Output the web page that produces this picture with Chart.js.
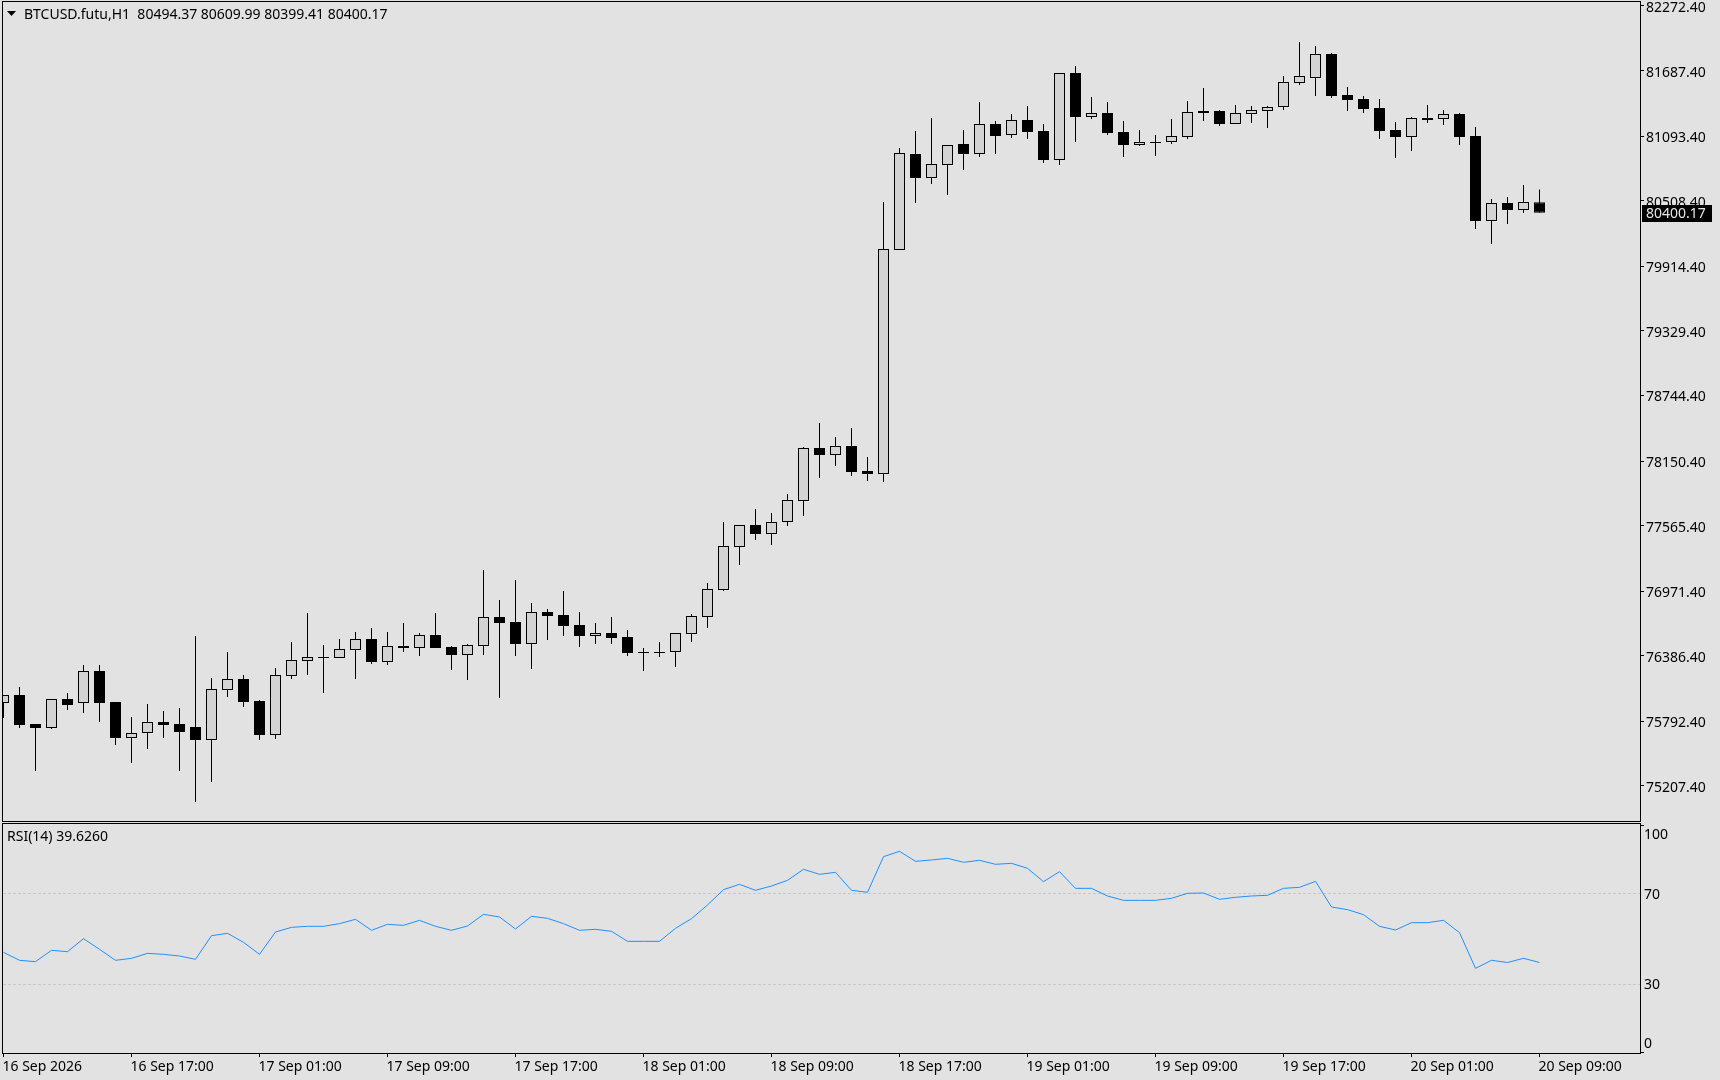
<!DOCTYPE html>
<html>
<head>
<meta charset="utf-8">
<title>BTCUSD.futu,H1</title>
<script src="https://cdn.jsdelivr.net/npm/chart.js@4/dist/chart.umd.min.js"></script>
<style>
    html, body { margin: 0; padding: 0; background: #e2e2e2; }
    canvas { position: absolute; left: 0; display: block; }
    #price-chart { top: 0; }
    #rsi-chart { top: 823px; }
</style>
</head>
<body>
<canvas id="price-chart" width="1720" height="823"></canvas>
<canvas id="rsi-chart" width="1720" height="257"></canvas>
<script>
// --- Data ---
const symbol = 'BTCUSD.futu,H1';
const rsiName = 'RSI(14)';

const opens = [75959.2, 76031.6, 75769.0, 75732.7, 75995.4, 75959.2, 76249.0, 75968.2, 75642.2, 75687.5,
    75787.1, 75769.0, 75741.8, 75624.1, 76076.9, 76176.6, 75977.3, 75669.3, 76203.7, 76339.6,
    76375.8, 76366.8, 76439.2, 76538.9, 76330.6, 76475.5, 76457.4, 76575.1, 76466.4, 76394.0,
    76475.5, 76738.2, 76692.9, 76493.6, 76783.4, 76756.3, 76665.7, 76566.0, 76593.2, 76557.0,
    76421.1, 76421.1, 76421.1, 76584.2, 76738.2, 76982.7, 77372.2, 77571.5, 77489.9, 77598.6,
    77788.8, 78268.9, 78205.5, 78287.0, 78060.6, 78033.4, 80062.3, 80931.9, 80714.5, 80832.2,
    81022.4, 80931.9, 81203.6, 81104.0, 81239.8, 81140.2, 80877.5, 81665.5, 81267.0, 81303.2,
    81131.1, 81013.4, 81040.6, 81040.6, 81085.9, 81321.3, 81321.3, 81203.6, 81294.2, 81321.3,
    81357.6, 81575.0, 81620.3, 81837.6, 81466.3, 81430.0, 81348.5, 81149.3, 81085.9, 81257.9,
    81248.9, 81294.2, 81094.9, 80325.0, 80488.0, 80424.6, 80494.37];
const highs = [76031.6, 76104.1, 75769.0, 75995.4, 76049.8, 76303.4, 76303.4, 75968.2, 75832.4, 75950.1,
    75886.7, 75913.9, 76566.0, 76185.6, 76421.1, 76212.8, 75986.4, 76276.2, 76511.7, 76774.4,
    76484.5, 76538.9, 76602.3, 76638.5, 76602.3, 76683.8, 76593.2, 76774.4, 76475.5, 76493.6,
    77163.9, 76892.1, 77073.3, 76865.0, 76810.6, 76973.7, 76783.4, 76683.8, 76738.2, 76620.4,
    76457.4, 76511.7, 76593.2, 76765.3, 77046.1, 77598.6, 77571.5, 77716.4, 77680.2, 77852.3,
    78278.0, 78495.3, 78368.5, 78450.0, 78187.4, 80497.1, 80986.2, 81140.2, 81257.9, 81013.4,
    81149.3, 81402.9, 81230.8, 81294.2, 81366.6, 81203.6, 81665.5, 81728.9, 81448.2, 81402.9,
    81230.8, 81149.3, 81104.0, 81248.9, 81411.9, 81529.7, 81330.4, 81375.7, 81366.6, 81366.6,
    81638.4, 81946.3, 81910.1, 81846.7, 81538.7, 81457.2, 81430.0, 81221.7, 81267.0, 81375.7,
    81330.4, 81303.2, 81176.4, 80524.3, 80542.4, 80651.1, 80609.99];
const lows = [75823.3, 75732.7, 75343.3, 75723.7, 75895.8, 75868.6, 75787.1, 75578.8, 75415.7, 75542.5,
    75642.2, 75343.3, 75062.5, 75243.6, 76013.5, 75923.0, 75624.1, 75633.1, 76176.6, 76212.8,
    76049.8, 76366.8, 76176.6, 76312.4, 76303.4, 76421.1, 76384.9, 76457.4, 76258.1, 76167.5,
    76394.0, 76004.5, 76384.9, 76267.2, 76529.8, 76566.0, 76466.4, 76493.6, 76493.6, 76384.9,
    76249.0, 76375.8, 76285.3, 76511.7, 76638.5, 76973.7, 77209.2, 77435.6, 77390.3, 77562.4,
    77653.0, 77997.2, 78105.9, 78015.3, 77970.0, 77960.9, 80062.3, 80488.0, 80660.1, 80560.5,
    80786.9, 80904.7, 80931.9, 81076.8, 81067.7, 80850.3, 80832.2, 81040.6, 81248.9, 81104.0,
    80904.7, 81004.3, 80913.7, 81022.4, 81067.7, 81230.8, 81185.5, 81203.6, 81212.7, 81167.4,
    81330.4, 81556.9, 81457.2, 81439.1, 81321.3, 81303.2, 81067.7, 80895.6, 80959.0, 81212.7,
    81194.5, 81013.4, 80252.5, 80116.7, 80297.8, 80397.5, 80399.41];
const closes = [76031.6, 75759.9, 75732.7, 75995.4, 75941.1, 76249.0, 75959.2, 75642.2, 75687.5, 75787.1,
    75759.9, 75696.5, 75624.1, 76086.0, 76176.6, 75968.2, 75669.3, 76212.8, 76348.7, 76375.8,
    76366.8, 76448.3, 76538.9, 76330.6, 76475.5, 76457.4, 76575.1, 76457.4, 76394.0, 76484.5,
    76738.2, 76683.8, 76493.6, 76783.4, 76747.2, 76656.6, 76566.0, 76593.2, 76547.9, 76412.1,
    76412.1, 76412.1, 76593.2, 76747.2, 76991.8, 77381.3, 77571.5, 77489.9, 77598.6, 77797.9,
    78268.9, 78205.5, 78287.0, 78051.5, 78033.4, 80071.4, 80940.9, 80714.5, 80841.3, 81013.4,
    80931.9, 81203.6, 81094.9, 81239.8, 81131.1, 80877.5, 81665.5, 81267.0, 81303.2, 81122.1,
    81013.4, 81040.6, 81031.5, 81094.9, 81312.3, 81303.2, 81203.6, 81303.2, 81330.4, 81357.6,
    81584.0, 81638.4, 81837.6, 81457.2, 81421.0, 81339.5, 81140.2, 81085.9, 81257.9, 81239.8,
    81294.2, 81085.9, 80325.0, 80488.0, 80424.6, 80497.1, 80400.17];
const rsiValues = [44.12, 40.59, 40.0, 45.0, 44.41, 50.15, 45.44, 40.59, 41.47, 43.67,
    43.23, 42.5, 41.03, 51.47, 52.5, 48.53, 43.23, 53.09, 55.15, 55.6,
    55.6, 56.77, 58.69, 53.83, 56.48, 56.04, 58.24, 55.6, 53.83, 55.74,
    60.89, 59.72, 54.42, 60.01, 59.13, 56.77, 53.83, 54.27, 53.39, 48.97,
    48.97, 48.97, 54.71, 58.98, 65.01, 71.78, 74.14, 71.49, 73.4, 75.9,
    80.76, 78.55, 79.44, 71.49, 70.61, 86.35, 88.71, 84.29, 84.88, 85.62,
    83.85, 84.74, 82.97, 83.41, 81.2, 75.32, 79.73, 72.37, 72.37, 68.99,
    67.07, 67.07, 67.07, 67.96, 70.17, 70.31, 67.52, 68.4, 68.99, 69.28,
    72.37, 72.81, 75.46, 64.13, 62.95, 60.75, 55.6, 53.98, 57.21, 57.21,
    58.24, 52.8, 37.05, 40.59, 39.626, 41.47, 39.626];

const priceTicks = [82272.4, 81687.4, 81093.4, 80508.4, 79914.4, 79329.4, 78744.4, 78150.4, 77565.4, 76971.4, 76386.4, 75792.4, 75207.4];
const rsiTicks = [100, 70, 30, 0];
const rsiLevels = [70, 30];
const timeTickBars = [0, 8, 16, 24, 32, 40, 48, 56, 64, 72, 80, 88, 96];
const timeTickLabels = ['16 Sep 2026', '16 Sep 17:00', '17 Sep 01:00', '17 Sep 09:00', '17 Sep 17:00', '18 Sep 01:00', '18 Sep 09:00',
    '18 Sep 17:00', '19 Sep 01:00', '19 Sep 09:00', '19 Sep 17:00', '20 Sep 01:00', '20 Sep 09:00'];

// --- Look ---
const FONT = { family: '"Noto Sans"', size: 14 };
const FONT_CSS = '14px "Noto Sans"';
const BULL_FILL = '#d3d3d3';
const BEAR_FILL = '#000000';
const RSI_COLOR = '#1e90ff';
const LEVEL_COLOR = '#c8c8c8';
const X_MIN = -0.03125;
const X_MAX = 102.28125;

const last = closes.length - 1;
const bars = closes.map((c, i) => i);

// the pane edges have to stay put, labels may hang over them
function noScalePadding(s) {
    s.paddingTop = 0;
    s.paddingBottom = 0;
    s.paddingLeft = 0;
    s.paddingRight = 0;
}

// a tick label with an empty line next to it moves by half the line height
const nudgedFont = (lineHeight) => ({ ...FONT, lineHeight: `${lineHeight}px` });

function rsiTickFont(c) {
    const v = c.tick ? c.tick.value : null;
    return nudgedFont(v === 100 ? 19 : v === 0 ? 16 : 2);
}

// black frame round each pane
const framePlugin = {
    id: 'frame',
    afterDraw(chart) {
        const { ctx, chartArea: a } = chart;
        ctx.save();
        ctx.strokeStyle = '#000';
        ctx.lineWidth = 1;
        ctx.strokeRect(a.left - 0.5, a.top - 0.5, a.right - a.left + 1, a.bottom - a.top + 1);
        ctx.restore();
    }
};

// symbol line and last price box on the price pane
const priceOverlay = {
    id: 'priceOverlay',
    afterDraw(chart) {
        const { ctx, scales } = chart;
        ctx.save();
        ctx.font = FONT_CSS;
        ctx.textBaseline = 'middle';
        ctx.textAlign = 'left';

        ctx.fillStyle = '#000';
        ctx.beginPath();
        ctx.moveTo(7, 11);
        ctx.lineTo(16, 11);
        ctx.lineTo(11.5, 16);
        ctx.closePath();
        ctx.fill();

        const ohlc = [opens[last], highs[last], lows[last], closes[last]].map(v => v.toFixed(2)).join(' ');
        ctx.fillText(`${symbol}  ${ohlc}`, 24, 15);

        const y = Math.round(scales.y.getPixelForValue(closes[last]));
        ctx.fillRect(1642, y - 8, 70, 17);
        ctx.fillStyle = '#e6e6e6';
        ctx.fillText(closes[last].toFixed(2), 1646, y + 1);
        ctx.restore();
    }
};

const rsiOverlay = {
    id: 'rsiOverlay',
    afterDraw(chart) {
        const { ctx, chartArea } = chart;
        ctx.save();
        ctx.font = FONT_CSS;
        ctx.textBaseline = 'middle';
        ctx.fillStyle = '#000';
        ctx.fillText(`${rsiName} ${rsiValues[last].toFixed(4)}`, 7, chartArea.top + 13);
        ctx.restore();
    }
};

// --- Price pane ---
new Chart(document.getElementById('price-chart'), {
    type: 'bar',
    plugins: [framePlugin, priceOverlay],
    data: {
        datasets: [
            {
                label: 'body',
                order: 1,
                data: bars.map(i => ({ x: i, y: [opens[i], closes[i]] })),
                backgroundColor: bars.map(i => closes[i] > opens[i] ? BULL_FILL : BEAR_FILL),
                borderColor: '#000',
                borderWidth: 1,
                borderSkipped: false,
                inflateAmount: 0,
                barThickness: 11,
                grouped: false
            },
            {
                label: 'wick',
                order: 2,
                data: bars.map(i => ({ x: i, y: [lows[i], highs[i]] })),
                backgroundColor: '#000',
                borderWidth: 0,
                inflateAmount: 0,
                barThickness: 1,
                grouped: false
            }
        ]
    },
    options: {
        responsive: false,
        animation: false,
        layout: { padding: { left: 3, top: 2, right: 0, bottom: 2 } },
        plugins: { legend: { display: false }, tooltip: { enabled: false } },
        scales: {
            x: { type: 'linear', min: X_MIN, max: X_MAX, offset: false, display: false },
            y: {
                position: 'right',
                min: 74890.37,
                max: 82308.63,
                afterBuildTicks: s => { s.ticks = priceTicks.map(v => ({ value: v })); },
                afterFit: s => { s.width = 80; noScalePadding(s); },
                grid: { drawOnChartArea: false, color: '#000', tickLength: 4 },
                border: { display: false },
                ticks: {
                    color: '#000',
                    font: nudgedFont(4),
                    padding: 2,
                    autoSkip: false,
                    callback: v => ['', v.toFixed(2)]
                }
            }
        }
    }
});

// --- RSI pane ---
new Chart(document.getElementById('rsi-chart'), {
    type: 'line',
    plugins: [framePlugin, rsiOverlay],
    data: {
        datasets: [{
            label: rsiName,
            data: bars.map(i => ({ x: i, y: rsiValues[i] })),
            borderColor: RSI_COLOR,
            borderWidth: 1,
            pointRadius: 0,
            tension: 0
        }]
    },
    options: {
        responsive: false,
        animation: false,
        layout: { padding: { left: 3, top: 1, right: 0, bottom: 0 } },
        plugins: { legend: { display: false }, tooltip: { enabled: false } },
        scales: {
            x: {
                type: 'linear',
                min: X_MIN,
                max: X_MAX,
                afterBuildTicks: s => { s.ticks = timeTickBars.map(v => ({ value: v })); },
                afterFit: s => { s.height = 27; noScalePadding(s); },
                grid: { drawOnChartArea: false, color: '#000', tickLength: 4 },
                border: { display: false },
                ticks: {
                    color: '#000',
                    font: FONT,
                    padding: 2,
                    labelOffset: -1,
                    align: 'start',
                    maxRotation: 0,
                    autoSkip: false,
                    callback: v => timeTickLabels[timeTickBars.indexOf(v)]
                }
            },
            y: {
                position: 'right',
                min: -0.33,
                max: 100.77,
                afterBuildTicks: s => { s.ticks = rsiTicks.map(v => ({ value: v })); },
                afterFit: s => { s.width = 80; noScalePadding(s); },
                grid: {
                    color: c => rsiLevels.includes(c.tick.value) ? LEVEL_COLOR : 'transparent',
                    tickColor: c => rsiLevels.includes(c.tick.value) ? 'transparent' : '#000',
                    tickLength: 4
                },
                border: { display: false, dash: [3, 2] },
                ticks: {
                    color: '#000',
                    font: rsiTickFont,
                    padding: 0,
                    autoSkip: false,
                    // top and bottom labels sit inside the pane
                    callback: v => v === 0 ? ['0', ''] : ['', String(v)]
                }
            }
        }
    }
});
</script>
</body>
</html>
